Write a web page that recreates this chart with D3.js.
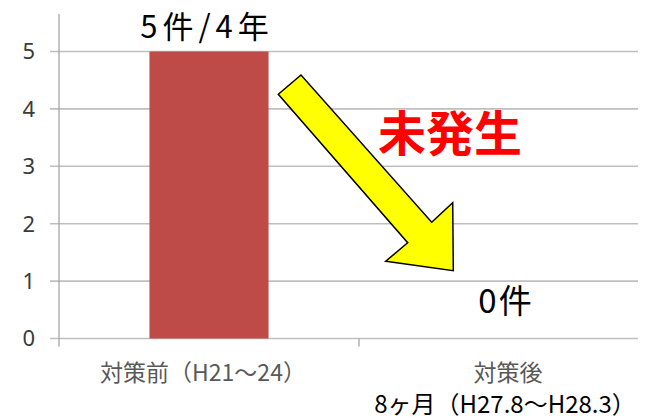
<!DOCTYPE html>
<html><head><meta charset="utf-8">
<script src="https://cdn.jsdelivr.net/npm/d3@7"></script>
<style>
html,body{margin:0;padding:0;background:#fff;}
svg{display:block;font-family:"Noto Sans CJK JP","Noto Sans",sans-serif;}
</style></head>
<body>
<svg id="c" width="653" height="419"></svg>
<script>
const categories = ["対策前（H21～24）", "対策後"];
const subLabels = ["", "8ヶ月（H27.8～H28.3）"];
const values = [5, 0];
const valueLabels = ["5件/4年", "0件"];
const yTicks = [0, 1, 2, 3, 4, 5];
const note = "未発生";

(function () {
const svg = d3.select("#c");
const pLeft = 59, pRight = 638, pTop = 51.5, pBottom = 338.5;

const x = d3.scaleBand().domain(categories).range([pLeft, pLeft + 600]).paddingInner(0.603).paddingOuter(0.3015);
const y = d3.scaleLinear().domain([0, 5]).range([pBottom, pTop]);

// gridlines
svg.append("g").selectAll("line").data(yTicks).join("line")
  .attr("x1", pLeft - 9).attr("x2", pRight)
  .attr("y1", d => y(d)).attr("y2", d => y(d))
  .attr("stroke", "#BFBFBF").attr("stroke-width", 1.6);

// y axis line
svg.append("line").attr("x1", pLeft).attr("x2", pLeft).attr("y1", 14).attr("y2", pBottom + 8)
  .attr("stroke", "#A6A6A6").attr("stroke-width", 1.3);
// category separator tick
svg.append("line").attr("x1", pLeft + 300).attr("x2", pLeft + 300).attr("y1", pBottom).attr("y2", pBottom + 8)
  .attr("stroke", "#A6A6A6").attr("stroke-width", 1.3);

// y tick labels
svg.append("g").selectAll("text").data(yTicks).join("text")
  .attr("x", 35).attr("y", d => y(d)).attr("dy", "0.36em")
  .attr("text-anchor", "end").attr("font-size", 22).attr("fill", "#3A3A3A")
  .attr("font-family", "'Noto Sans','DejaVu Sans',sans-serif")
  .text(d => d);

// bars
svg.append("g").selectAll("rect").data(values).join("rect")
  .attr("x", (d, i) => x(categories[i])).attr("width", x.bandwidth())
  .attr("y", d => y(d)).attr("height", d => y(0) - y(d))
  .attr("fill", "#BE4B48");

// category labels
const cx = c => x(c) + x.bandwidth() / 2;
svg.append("g").selectAll("text").data(categories).join("text")
  .attr("x", (d, i) => cx(d) - (i === 0 ? 6 : 1)).attr("y", 381)
  .attr("text-anchor", "middle").attr("font-size", 23).attr("fill", "#595959")
  .text(d => d);
svg.append("g").selectAll("text").data(subLabels).join("text")
  .attr("x", (d, i) => cx(categories[i]) - 4).attr("y", 413)
  .attr("text-anchor", "middle").attr("font-size", 24).attr("fill", "#000")
  .text(d => d);

// arrow
const arrow = [[278.3, 94.3], [301, 75], [431.7, 222.3], [452.7, 202.7], [453.3, 270.7], [385.7, 261.3], [407.7, 242.7]];
svg.append("polygon").attr("points", arrow.map(p => p.join(",")).join(" "))
  .attr("fill", "#FFFF00").attr("stroke", "#000").attr("stroke-width", 1.5).attr("stroke-linejoin", "miter");

// value labels
svg.append("text").attr("x", cx(categories[0]) - 2).attr("y", y(values[0]) - 14)
  .attr("text-anchor", "middle").attr("font-size", 31).attr("letter-spacing", 5).attr("fill", "#000")
  .text(valueLabels[0]);
svg.append("text").attr("x", cx(categories[1]) - 3).attr("y", y(values[1]) - 26)
  .attr("text-anchor", "middle").attr("font-size", 33).attr("letter-spacing", 2).attr("fill", "#000")
  .text(valueLabels[1]);

// note
svg.append("text").attr("x", 450).attr("y", 151)
  .attr("text-anchor", "middle").attr("font-size", 48).attr("font-weight", "bold").attr("fill", "#FF0000")
  .text(note);
})();
</script>
</body></html>
